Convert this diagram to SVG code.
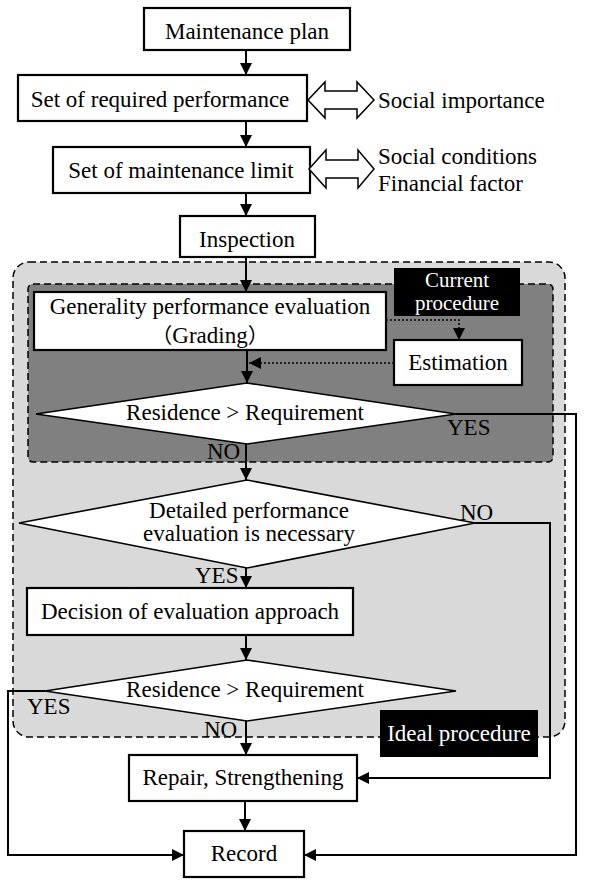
<svg xmlns="http://www.w3.org/2000/svg" width="594" height="884" viewBox="0 0 594 884">
<style>
text{font-family:"Liberation Serif","DejaVu Serif",serif;font-size:23px;fill:#000}
.cjk{font-family:"Noto Sans CJK JP","Liberation Serif",serif;font-size:21px}
.c{text-anchor:middle}
.w{fill:#fff}
.sm{font-size:21px}
.box{fill:#fff;stroke:#000;stroke-width:2.2}
.dia{fill:#fff;stroke:#000;stroke-width:1.6}
.ln{fill:none;stroke:#000;stroke-width:2}
.dot{fill:none;stroke:#000;stroke-width:1.6;stroke-dasharray:2 2}
.dbl{fill:#fff;stroke:#000;stroke-width:1.5}
.dash{stroke:#000;stroke-width:1.5;stroke-dasharray:7 4}
</style>
<defs>
<marker id="ah" markerUnits="userSpaceOnUse" markerWidth="12" markerHeight="12" refX="12" refY="6" orient="auto">
<path d="M0,0 L12,6 L0,12 Z" fill="#000"/>
</marker>
</defs>
<rect id="ideal-region" x="13" y="262" width="552" height="475" rx="16" fill="#d9d9d9" class="dash"/>
<rect id="current-region" x="28" y="284" width="525" height="178" rx="5" fill="#808080" class="dash"/>
<g id="current-label"><rect x="394" y="268" width="126" height="48" fill="#000"/><text class="c w sm" x="457" y="287">Current</text><text class="c w sm" x="457" y="310">procedure</text></g>
<g id="ideal-label"><rect x="380" y="710" width="158" height="47" fill="#000"/><text class="c w" x="459" y="741">Ideal procedure</text></g>
<g id="n-plan"><rect class="box" x="144" y="8" width="206" height="42"/><text class="c" x="247" y="39">Maintenance plan</text></g>
<g id="n-req"><rect class="box" x="18" y="75" width="289" height="46"/><text class="c" x="160" y="107">Set of required performance</text></g>
<g id="n-social1"><path class="dbl" d="M308,100 L325,82 L325,91 L357,91 L357,82 L374,100 L357,118 L357,109 L325,109 L325,118 Z"/><text x="378" y="108">Social importance</text></g>
<g id="n-limit"><rect class="box" x="53" y="147" width="257" height="46"/><text class="c" x="181" y="178">Set of maintenance limit</text></g>
<g id="n-social2"><path class="dbl" d="M309,169 L326,150 L326,160 L358,160 L358,150 L374,169 L358,188 L358,178 L326,178 L326,188 Z"/><text x="378" y="164">Social conditions</text><text x="378" y="191">Financial factor</text></g>
<g id="n-insp"><rect class="box" x="180" y="216" width="135" height="41"/><text class="c" x="247" y="247">Inspection</text></g>
<g id="n-gen"><rect class="box" x="34" y="292" width="352" height="58"/><text class="c" x="210" y="314">Generality performance evaluation</text><text class="c" x="210" y="343"><tspan class="cjk">（</tspan>Grading<tspan class="cjk">）</tspan></text></g>
<g id="n-est"><rect class="box" x="394" y="340" width="128" height="45"/><text class="c" x="458" y="370">Estimation</text></g>
<g id="n-d1"><polygon class="dia" points="247,383 456,414 247,444 36,414"/><text class="c" x="245" y="420">Residence &gt; Requirement</text></g>
<g id="n-d2"><polygon class="dia" points="247,480 475,523 247,568 19,523"/><text class="c" x="249" y="518">Detailed performance</text><text class="c" x="249" y="541">evaluation is necessary</text></g>
<g id="n-dec"><rect class="box" x="27" y="588" width="326" height="47"/><text class="c" x="190" y="619">Decision of evaluation approach</text></g>
<g id="n-d3"><polygon class="dia" points="247,660 456,691 247,721 45,691"/><text class="c" x="245" y="697">Residence &gt; Requirement</text></g>
<g id="n-rep"><rect class="box" x="129" y="755" width="228" height="46"/><text class="c" x="243" y="785">Repair, Strengthening</text></g>
<g id="n-rec"><rect class="box" x="184" y="831" width="120" height="46"/><text class="c" x="244" y="861">Record</text></g>
<g id="connectors">
<line class="ln" x1="246" y1="50" x2="246" y2="75" marker-end="url(#ah)"/>
<line class="ln" x1="246" y1="121" x2="246" y2="147" marker-end="url(#ah)"/>
<line class="ln" x1="246" y1="193" x2="246" y2="216" marker-end="url(#ah)"/>
<line class="ln" x1="246" y1="257" x2="246" y2="292" marker-end="url(#ah)"/>
<line class="ln" x1="247" y1="350" x2="247" y2="383" marker-end="url(#ah)"/>
<polyline class="dot" points="386,320 459,320 459,340" marker-end="url(#ah)"/>
<line class="dot" x1="394" y1="363" x2="249" y2="363" marker-end="url(#ah)"/>
<line class="ln" x1="246" y1="444" x2="246" y2="480" marker-end="url(#ah)"/>
<polyline class="ln" points="456,414 576,414 576,855 304,855" marker-end="url(#ah)"/>
<line class="ln" x1="246" y1="568" x2="246" y2="588" marker-end="url(#ah)"/>
<polyline class="ln" points="475,523 550,523 550,778 357,778" marker-end="url(#ah)"/>
<line class="ln" x1="246" y1="635" x2="246" y2="660" marker-end="url(#ah)"/>
<polyline class="ln" points="45,691 8,691 8,855 184,855" marker-end="url(#ah)"/>
<line class="ln" x1="246" y1="721" x2="246" y2="755" marker-end="url(#ah)"/>
<line class="ln" x1="245" y1="801" x2="245" y2="831" marker-end="url(#ah)"/>
<text x="447" y="435">YES</text>
<text x="207" y="459">NO</text>
<text x="460" y="520">NO</text>
<text x="195" y="583">YES</text>
<text x="27" y="714">YES</text>
<text x="204" y="737">NO</text>
</g>
</svg>
